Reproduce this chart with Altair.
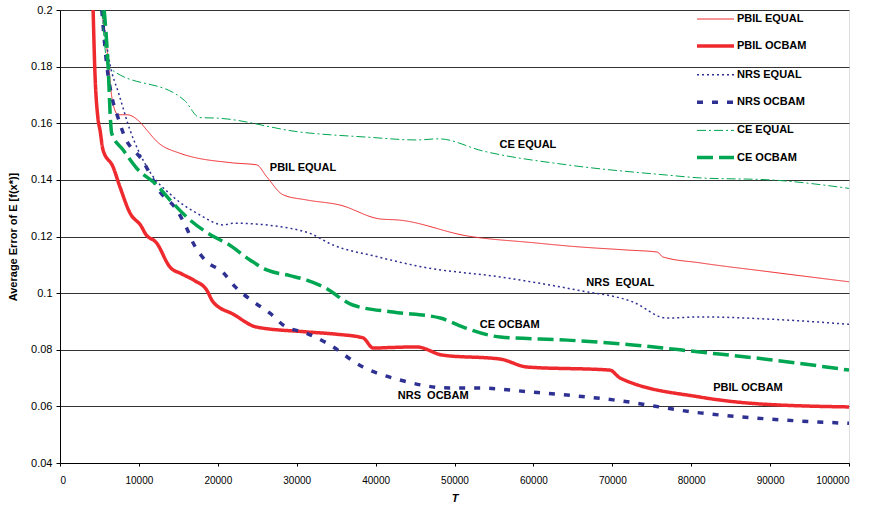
import altair as alt
import pandas as pd

series_names = ["PBIL EQUAL", "PBIL OCBAM", "NRS EQUAL", "NRS OCBAM", "CE EQUAL", "CE OCBAM"]

pbil_eq_T = [5300, 6000, 6700, 7400, 8500, 10100, 11000, 12300, 15200, 21900, 24930, 26200, 28300, 31270, 35500,
             40560, 43000, 51600, 60000, 65000, 72000, 75700, 76400, 81100, 90000, 100000]
pbil_eq_E = [0.2, 0.185, 0.167, 0.163, 0.163, 0.1605, 0.1576, 0.1535, 0.1494, 0.146, 0.1453, 0.1411, 0.1347, 0.1329, 0.1311,
             0.1262, 0.1258, 0.1202, 0.1178, 0.1165, 0.1152, 0.1145, 0.1128, 0.1107, 0.1075, 0.104]

pbil_oc_T = [4200, 4400, 4800, 5070, 5450, 6720, 7600, 8870, 10350, 10770, 12250, 13940, 15420, 17000, 18590,
             19400, 22000, 24930, 31270, 35000, 38400, 39700, 42000, 45200, 48500, 55800, 59200, 69700, 71000,
             81100, 88000, 100000]
pbil_oc_E = [0.2, 0.18, 0.162, 0.1576, 0.1506, 0.1446, 0.1375, 0.1283, 0.1234, 0.1212, 0.1177, 0.1092, 0.1068, 0.1045,
             0.1011, 0.0969, 0.0925, 0.088, 0.0863, 0.0855, 0.0842, 0.0806, 0.0808, 0.081, 0.0781, 0.0767, 0.0739, 0.0728,
             0.07, 0.0633, 0.061, 0.0598]

nrs_eq_T = [5300, 6300, 7500, 8870, 10980, 14360, 17740, 20700, 21970, 29150, 31690, 34600, 40000, 46000, 55800, 65500,
            72600, 76900, 81100, 90000, 100000]
nrs_eq_E = [0.2, 0.1813, 0.17, 0.1576, 0.1447, 0.134, 0.1276, 0.1241, 0.1247, 0.1229, 0.1211, 0.117, 0.113, 0.1092,
            0.1057, 0.1011, 0.0969, 0.0912, 0.0916, 0.0908, 0.089]

nrs_oc_T = [5300, 5950, 6600, 7350, 8030, 10560, 12670, 14790, 16060, 16900, 18380, 20700, 22180, 24500, 26620, 28300,
            31270, 33800, 38400, 43100, 49400, 52800, 60000, 70100, 81100, 90000, 100000]
nrs_oc_E = [0.2, 0.18, 0.169, 0.162, 0.1564, 0.1464, 0.1358, 0.1294, 0.1229, 0.1176, 0.1117, 0.1072, 0.1023, 0.097,
            0.0929, 0.0887, 0.0858, 0.0824, 0.0739, 0.0693, 0.0665, 0.0665, 0.065, 0.0623, 0.0577, 0.0555, 0.054]

ce_eq_T = [5300, 6100, 15800, 17700, 20000, 30400, 38900, 45200, 48000, 53600, 64300, 76900, 81100, 90000, 100000]
ce_eq_E = [0.2, 0.18, 0.168, 0.162, 0.1618, 0.1569, 0.1551, 0.1541, 0.1545, 0.1502, 0.1453, 0.1417, 0.1407, 0.140, 0.137]

ce_oc_T = [5600, 6100, 6400, 6550, 8030, 9720, 12250, 13940, 16480, 19650, 21130, 24080, 26200, 29150, 31270, 33400,
           37100, 42200, 48200, 51100, 55800, 64300, 72600, 81100, 90000, 100000]
ce_oc_E = [0.2, 0.18, 0.161, 0.1564, 0.1505, 0.1441, 0.1382, 0.1329, 0.1258, 0.1197, 0.1176, 0.1117, 0.1082, 0.1062,
           0.1046, 0.1022, 0.0958, 0.0933, 0.0912, 0.088, 0.0845, 0.0834, 0.0817, 0.0792, 0.0765, 0.0728]

label_text = ["PBIL EQUAL", "CE EQUAL", "NRS\u00a0\u00a0EQUAL", "CE OCBAM", "PBIL OCBAM", "NRS\u00a0\u00a0OCBAM"]
label_T = [30800, 59300, 71000, 57000, 87200, 47300]
label_E = [0.1442, 0.1523, 0.1036, 0.0887, 0.0665, 0.0637]

colors = ["#ee2a2e", "#ee2a2e", "#2e3192", "#2e3192", "#00a651", "#00a651"]
dashes = [[1, 0], [1, 0], [2, 3], [6, 9], [9, 3, 2, 3], [16, 6]]
widths = [1, 3.5, 1.5, 3.5, 1, 3.5]

rows = []
for name, Ts, Es in zip(series_names,
                        [pbil_eq_T, pbil_oc_T, nrs_eq_T, nrs_oc_T, ce_eq_T, ce_oc_T],
                        [pbil_eq_E, pbil_oc_E, nrs_eq_E, nrs_oc_E, ce_eq_E, ce_oc_E]):
    for i, (t, e) in enumerate(zip(Ts, Es)):
        rows.append({"series": name, "T": t, "E": e, "order": i})
df = pd.DataFrame(rows)
labels_df = pd.DataFrame({"text": label_text, "T": label_T, "E": label_E})

FONT = "Liberation Sans"

xscale = alt.Scale(domain=[0, 100000], nice=False)
yscale = alt.Scale(domain=[0.04, 0.2], nice=False, zero=False)

lines = alt.Chart(df).mark_line(clip=True, interpolate="monotone").encode(
    x=alt.X("T:Q", scale=xscale,
            axis=alt.Axis(title="T", values=list(range(0, 100001, 10000)), format="d", grid=False,
                          titleFontStyle="italic", titleFontWeight="bold", titleFontSize=11,
                          labelFontSize=10, tickSize=3, labelPadding=9, titlePadding=7,
                          domainColor="#000000", tickColor="#000000", labelColor="#000000",
                          titleColor="#000000", titleFont=FONT, labelFont=FONT)),
    y=alt.Y("E:Q", scale=yscale,
            axis=alt.Axis(title="Average Error of E [f(x*)]", values=[0.04, 0.06, 0.08, 0.1, 0.12, 0.14, 0.16, 0.18, 0.2],
                          format="~g", grid=True, gridColor="#333333", gridWidth=1,
                          titleFontWeight="bold", titleFontSize=11, labelFontSize=11, tickSize=4,
                          labelPadding=4, titlePadding=12, domainColor="#000000", tickColor="#000000",
                          labelColor="#000000", titleColor="#000000", titleFont=FONT, labelFont=FONT)),
    color=alt.Color("series:N", scale=alt.Scale(domain=series_names, range=colors),
                    legend=alt.Legend(title=None, orient="none", legendX=635, legendY=-10,
                                      symbolType="stroke", symbolSize=1369, rowPadding=1.6,
                                      labelFontSize=11, labelFontWeight="bold", labelFont=FONT,
                                      labelColor="#000000", labelOffset=1, padding=0)),
    strokeDash=alt.StrokeDash("series:N", scale=alt.Scale(domain=series_names, range=dashes)),
    strokeWidth=alt.StrokeWidth("series:N", scale=alt.Scale(type="ordinal", domain=series_names, range=widths)),
    order="order:Q",
)

texts = alt.Chart(labels_df).mark_text(font=FONT, fontSize=11, fontWeight="bold", color="#000000").encode(
    x=alt.X("T:Q", scale=xscale),
    y=alt.Y("E:Q", scale=yscale),
    text="text:N",
)

chart = alt.layer(lines, texts).properties(
    width=789, height=453,
    autosize=alt.AutoSizeParams(type="none"),
    padding={"left": 60, "top": 10, "right": 24, "bottom": 45},
).configure_view(stroke=None).configure(background="white")

chart.save("out.html", embed_options={"renderer": "svg", "actions": False})
